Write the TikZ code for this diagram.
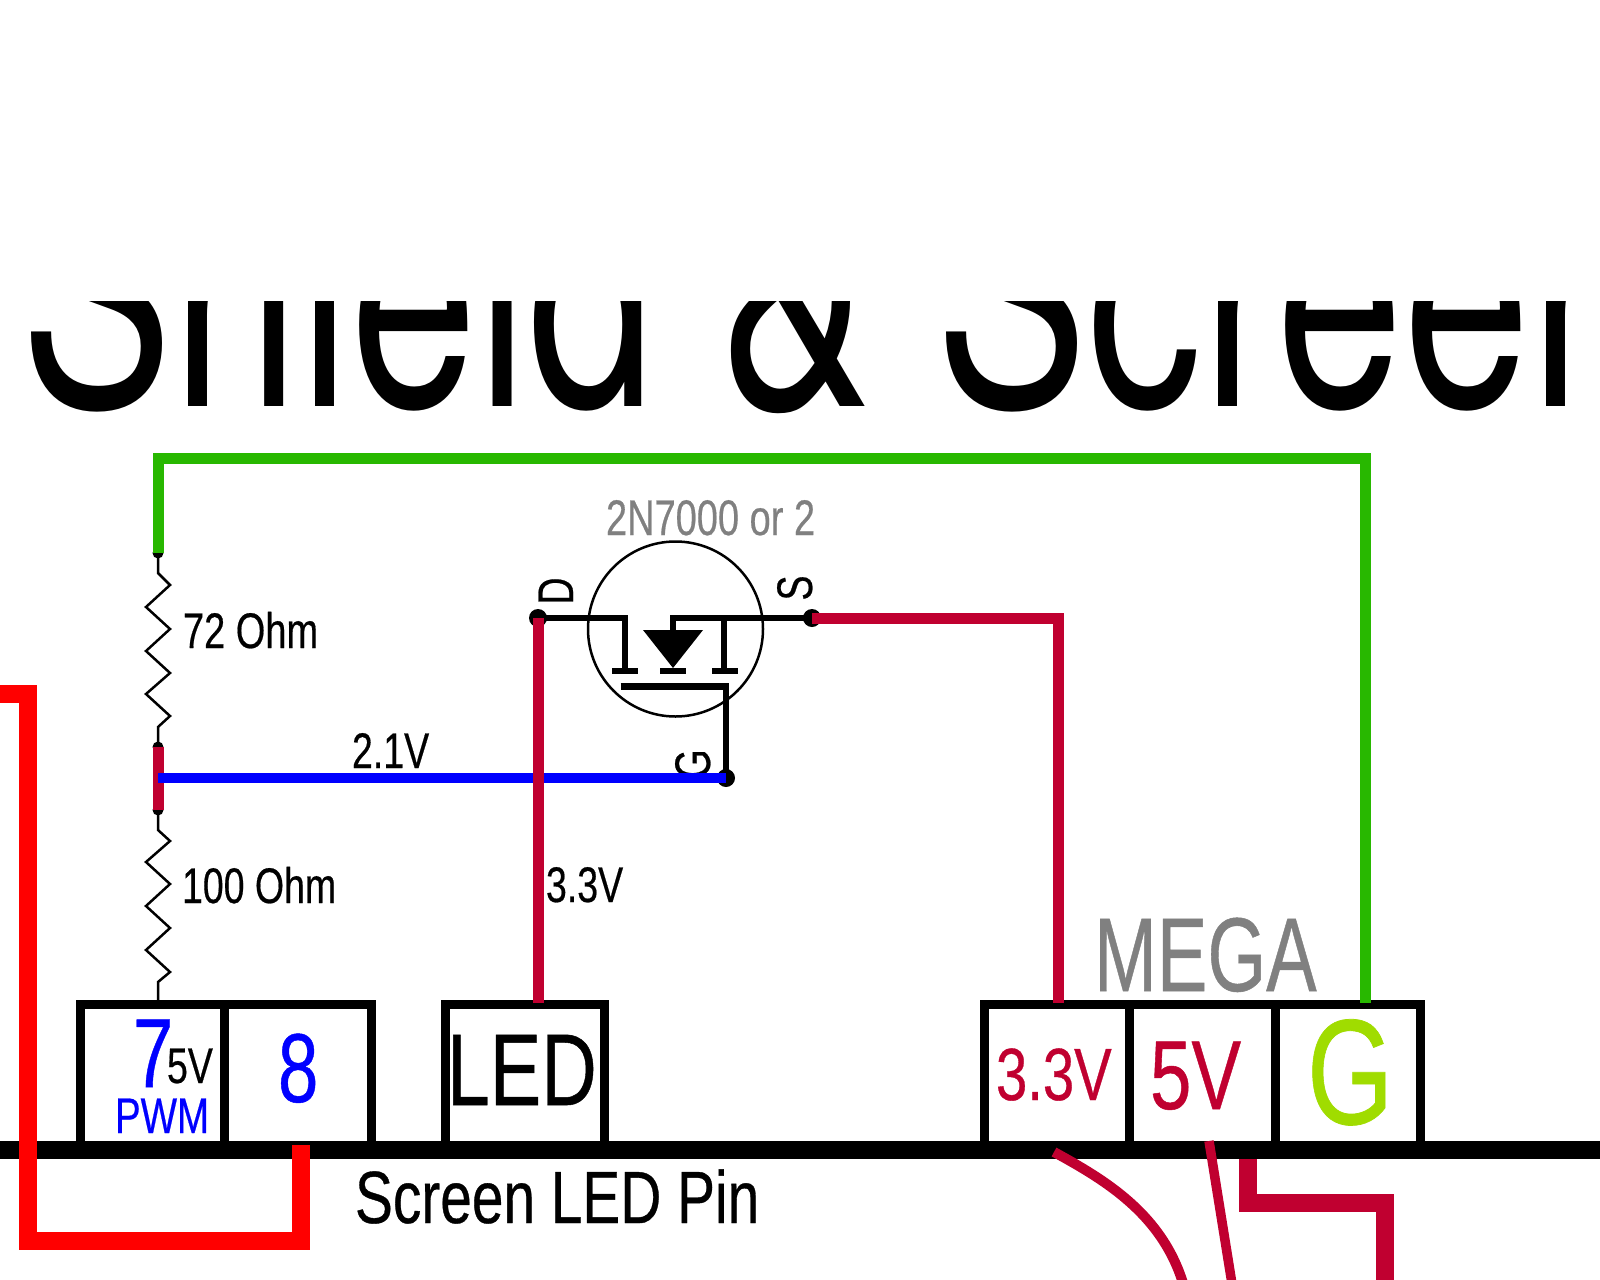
\documentclass[tikz,border=0pt]{standalone}
\usepackage{fontspec}
\usepackage{graphicx}
\setmainfont{Liberation Sans}[FakeBold=0.5]
\newfontfamily\ttlfont{TeX Gyre Heros}
\definecolor{crim}{RGB}{192,0,48}
\definecolor{grn}{RGB}{40,184,0}
\definecolor{lime}{RGB}{160,220,0}
\definecolor{gry}{RGB}{128,128,128}
\definecolor{blu}{RGB}{0,0,255}
\definecolor{rd}{RGB}{255,0,0}
\newdimen\px \px=0.05cm
\newcommand\T[3]{\scalebox{#2}[1]{\fontsize{#1\px}{#1\px}\selectfont #3}}
\tikzset{
  x=0.05cm,y=-0.05cm,
  lbl/.style={anchor=base west,inner sep=0pt,outer sep=0pt},
  rot/.style={anchor=base,inner sep=0pt,outer sep=0pt,rotate=90},
  cell/.style={draw=black,line width=9\px,fill=white,inner sep=0pt,outer sep=0pt,rectangle},
  pindot/.style={circle,fill=black,inner sep=0pt,outer sep=0pt,minimum size=18\px},
  wirecap/.style={circle,fill=black,inner sep=0pt,outer sep=0pt,minimum size=11\px},
  thinwire/.style={draw=black,line width=2.5\px,line join=miter},
  fet/.style={draw=black,line width=5.5\px,line join=miter},
  cwire/.style={draw=crim,line width=11\px,line join=miter},
}
\begin{document}
\begin{tikzpicture}
\useasboundingbox (0,0) rectangle (1600,1280);
\fill[white] (0,0) rectangle (1600,1280);
\clip (0,0) rectangle (1600,1280);
% title, cut off at the top
\begin{scope}
\clip (0,301) rectangle (1600,420);
\node[lbl] (title) at (20,406.5) {\scalebox{1.003}[1.38]{\fontsize{228\px}{228\px}\ttlfont\selectfont Shield \& Screen}};
\end{scope}
% named points
\coordinate (gTop) at (158,553);
\coordinate (gL) at (158,458.5);
\coordinate (gR) at (1365,458.5);
\coordinate (gEnd) at (1365,1003);
\coordinate (mTop) at (158,747);
\coordinate (mBot) at (158,810);
\coordinate (mMid) at (158,778);
\coordinate (r2End) at (158,1000);
\coordinate (ledTop) at (538,1003);
\coordinate (m33Top) at (1058,1003);
\coordinate (corner) at (1058,618);
\coordinate (rA) at (0,693.5);
\coordinate (rB) at (28,693.5);
\coordinate (rC) at (28,1240.5);
\coordinate (rD) at (300.5,1240.5);
\coordinate (rE) at (300.5,1145);
\coordinate (barL) at (0,1150);
\coordinate (barR) at (1600,1150);
% boxes
\node[cell,minimum width=144.5\px,minimum height=145.5\px] (c7) at (152.25,1077.25) {};
\node[cell,minimum width=146.5\px,minimum height=145.5\px] (c8) at (297.75,1077.25) {};
\node[cell,minimum width=158.5\px,minimum height=145.5\px] (cLED) at (524.75,1077.25) {};
\node[cell,minimum width=145\px,minimum height=145.5\px] (c33) at (1057,1077.25) {};
\node[cell,minimum width=146\px,minimum height=145.5\px] (c5) at (1202.5,1077.25) {};
\node[cell,minimum width=144.5\px,minimum height=145.5\px] (cG) at (1347.75,1077.25) {};
% bar
\draw[black,line width=18\px] (barL) -- (barR);
% lower wires
\coordinate (w1a) at (1054,1152);
\coordinate (w1b) at (1185,1290);
\coordinate (w2a) at (1209,1141);
\coordinate (w2b) at (1233,1290);
\coordinate (w3a) at (1248,1159);
\coordinate (w3b) at (1248,1203);
\coordinate (w3c) at (1385,1203);
\coordinate (w3d) at (1385,1290);
\draw[draw=crim,line width=10\px] (w1a) .. controls (1105,1180) and (1165,1215) .. (w1b);
\draw[draw=crim,line width=9.5\px] (w2a) -- (w2b);
\draw[draw=crim,line width=18\px,line join=miter] (w3a) -- (w3b) -- (w3c) -- (w3d);
% red loop
\draw[draw=rd,line width=18\px,line join=miter] (rA) -- (rB) -- (rC) -- (rD) -- (rE);
% resistors
\node[wirecap] (capA) at (gTop) {};
\node[wirecap] (capB) at (mTop) {};
\node[wirecap] (capC) at (mBot) {};
\draw[thinwire] (gTop) -- (158,573) -- (170,585) -- (146,607) -- (170,629) -- (146,651) -- (170,673) -- (146,694) -- (170,716) -- (158,727) -- (mTop);
\draw[thinwire] (mBot) -- (158,830) -- (170,841) -- (146,862) -- (170,884) -- (146,906) -- (170,928) -- (146,950) -- (170,972) -- (158,982) -- (r2End);
% MOSFET
\node[circle,draw=black,line width=2.5\px,minimum size=175\px,inner sep=0pt,outer sep=0pt] (body) at (675.5,629) {};
\node[pindot] (D) at (538,618) {};
\node[pindot] (S) at (812,618) {};
\node[pindot] (Gt) at (726,778) {};
\coordinate (dK) at (625,618);
\coordinate (dF) at (625,671);
\coordinate (sM) at (673,618);
\coordinate (sT) at (673,640);
\coordinate (sK) at (724,618);
\coordinate (sF) at (724,671);
\coordinate (gK) at (726,686);
\coordinate (gB) at (620.5,686);
\draw[fet] (D.center) -- (dK) -- (dF);
\draw[fet] (S.center) -- (sM) -- (sT);
\draw[fet] (sK) -- (sF);
\draw[fet] (612,671) -- (638,671);
\draw[fet] (660,671) -- (686,671);
\draw[fet] (712,671) -- (738,671);
\draw[black,line width=7\px] (gB) -- (729,686);
\draw[fet] (gK) -- (Gt.center);
\fill[black] (643,630) -- (703,630) -- (673,668) -- cycle;
% labels on the FET (G runs under the blue wire)
\node[rot,text=black] (lD) at (573,591) {\T{50}{0.75}{D}};
\node[rot,text=black] (lS) at (812,588) {\T{50}{0.75}{S}};
\node[rot,text=black] (lG) at (710,764) {\T{50}{0.75}{G}};
% wires
\draw[draw=crim,line width=11\px] (mTop) -- (mBot);
\draw[draw=blu,line width=10\px] (mMid) -- (Gt.center);
\draw[draw=grn,line width=11\px,line join=miter] (gTop) -- (gL) -- (gR) -- (gEnd);
\draw[cwire] (D.center) -- (ledTop);
\draw[cwire] (S.center) -- (corner) -- (m33Top);
% labels
\node[lbl,text=gry] (part) at (606,535) {\T{50}{0.76}{2N7000 or 2}};
\node[lbl,text=black] (r72) at (183,648) {\T{50}{0.76}{72 Ohm}};
\node[lbl,text=black] (r100) at (182,903) {\T{50}{0.75}{100 Ohm}};
\node[lbl,text=black] (v21) at (352,768) {\T{50}{0.75}{2.1V}};
\node[lbl,text=black] (v33) at (546,902) {\T{50}{0.75}{3.3V}};
\node[lbl,text=black] (pin) at (355,1223) {\T{74}{0.768}{Screen LED Pin}};
\node[lbl,text=gry] (mega) at (1094,991) {\T{105}{0.72}{MEGA}};
\node[lbl,text=blu] (t7) at (133,1087) {\T{98}{0.74}{7}};
\node[lbl,text=black] (t5v) at (167,1083) {\T{50}{0.75}{5V}};
\node[lbl,text=blu] (tpwm) at (115,1133) {\T{50}{0.77}{PWM}};
\node[lbl,text=blu] (t8) at (278,1102) {\T{98}{0.74}{8}};
\node[lbl,text=black] (tled) at (447,1105) {\T{102}{0.755}{LED}};
\node[lbl,text=crim] (t33) at (996,1100) {\T{74}{0.76}{3.3V}};
\node[lbl,text=crim] (t5) at (1150,1109) {\T{98}{0.76}{5V}};
\node[lbl,text=lime] (tG) at (1307,1124) {\T{150}{0.74}{G}};
\end{tikzpicture}
\end{document}
